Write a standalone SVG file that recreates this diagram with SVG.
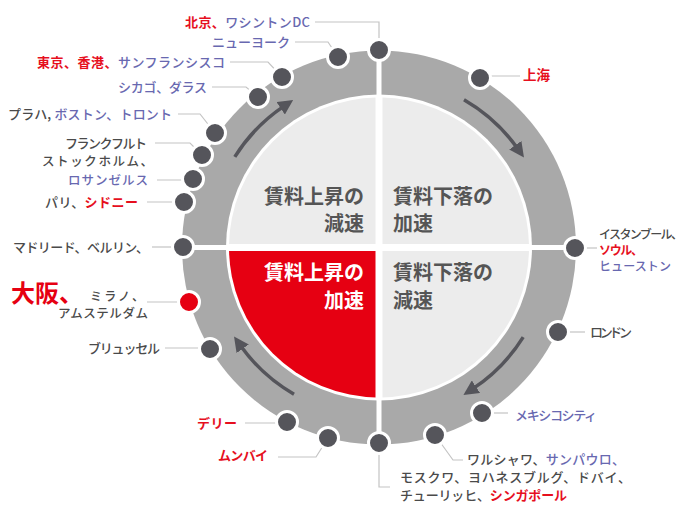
<svg xmlns="http://www.w3.org/2000/svg" width="685" height="505" viewBox="0 0 685 505">
<style>
text{font-family:"Noto Sans CJK JP","Liberation Sans",sans-serif;font-size:13px;font-weight:500;fill:#4a4a4a}
.b{fill:#6868b0}
.r{fill:#e60f1e;font-weight:bold}
.e{text-anchor:end}
.q{font-size:20px;font-weight:bold;fill:#555}
.dot{fill:#55555b;stroke:#fff;stroke-width:3}
.lead{fill:none;stroke:#c4c4c4;stroke-width:1.2}
.arr{fill:none;stroke:#55555b;stroke-width:3.5;marker-end:url(#ah)}
</style>
<defs>
<marker id="ah" markerUnits="userSpaceOnUse" viewBox="0 0 15 15" refX="4" refY="7.5" markerWidth="15" markerHeight="15" orient="auto">
<path d="M0,0 L15,7.5 L0,15 z" fill="#55555b"/>
</marker>
<clipPath id="tl"><rect x="0" y="0" width="375.5" height="244"/></clipPath>
<clipPath id="tr"><rect x="382.5" y="0" width="310" height="244"/></clipPath>
<clipPath id="bl"><rect x="0" y="251" width="375.5" height="260"/></clipPath>
<clipPath id="br"><rect x="382.5" y="251" width="310" height="260"/></clipPath>
</defs>
<rect width="685" height="505" fill="#fff"/>
<g id="wheel">
<circle cx="379" cy="247.5" r="197" fill="#a9a9a9"/>
<circle cx="379" cy="247.5" r="153" fill="#fff"/>
<circle cx="379" cy="247.5" r="150" fill="#ececec" clip-path="url(#tl)"/>
<circle cx="379" cy="247.5" r="150" fill="#ececec" clip-path="url(#tr)"/>
<circle cx="379" cy="247.5" r="150" fill="#e60012" clip-path="url(#bl)"/>
<circle cx="379" cy="247.5" r="150" fill="#ececec" clip-path="url(#br)"/>
<path d="M379,48 V447 M180,247.5 H578" stroke="#fff" stroke-width="5"/>
</g>
<g id="quadrants">
<text class="q e" x="364" y="204">賃料上昇の</text>
<text class="q e" x="364" y="231">減速</text>
<text class="q" x="393" y="204">賃料下落の</text>
<text class="q" x="393" y="231">加速</text>
<text class="q e" x="364" y="280" style="fill:#fff">賃料上昇の</text>
<text class="q e" x="364" y="308" style="fill:#fff">加速</text>
<text class="q" x="393" y="280">賃料下落の</text>
<text class="q" x="393" y="308">減速</text>
</g>
<g id="cycle-arrows">
<path class="arr" d="M234.8,156.9 A170,170 0 0 1 284,106.1"/>
<path class="arr" d="M464,99.8 A170,170 0 0 1 517.6,148.5"/>
<path class="arr" d="M523.2,337.1 A170,170 0 0 1 472.6,388.9"/>
<path class="arr" d="M294,394.2 A170,170 0 0 1 240.4,345.5"/>
</g>
<g id="connectors">
<path class="lead" d="M315,22 H379 V40"/>
<path class="lead" d="M295,42 H328 L338,57"/>
<path class="lead" d="M230,62 H268 L282,77"/>
<path class="lead" d="M212,87 H246 L258,97"/>
<path class="lead" d="M178,114 H200 L215,133"/>
<path class="lead" d="M155,143 H190 L202,155"/>
<path class="lead" d="M157,180 H193"/>
<path class="lead" d="M147,202 H184"/>
<path class="lead" d="M152,247 H183"/>
<path class="lead" d="M147,302 H189"/>
<path class="lead" d="M165,348 H210"/>
<path class="lead" d="M245,423 H287"/>
<path class="lead" d="M278,457 H316 L328,438"/>
<path class="lead" d="M379,443 V487 H390"/>
<path class="lead" d="M435,435 L453,460 H463"/>
<path class="lead" d="M482,413 H508"/>
<path class="lead" d="M558,332 H585"/>
<path class="lead" d="M575,248 H597"/>
<path class="lead" d="M480,76 H520"/>
</g>
<g id="n-beijing"><circle class="dot" cx="379" cy="50" r="10.5"/><text class="e" x="310" y="27" textLength="125"><tspan class="r">北京、</tspan><tspan class="b">ワシントンDC</tspan></text></g>
<g id="n-newyork"><circle class="dot" cx="338" cy="57" r="10.5"/><text class="e b" x="290" y="47" textLength="78">ニューヨーク</text></g>
<g id="n-tokyo"><circle class="dot" cx="282" cy="77" r="10.5"/><text class="e" x="225" y="67" textLength="188"><tspan class="r">東京、香港、</tspan><tspan class="b">サンフランシスコ</tspan></text></g>
<g id="n-chicago"><circle class="dot" cx="258" cy="97" r="10.5"/><text class="e b" x="207" y="92" textLength="89">シカゴ、ダラス</text></g>
<g id="n-prague"><circle class="dot" cx="215" cy="133" r="10.5"/><text class="e" x="172" y="119" textLength="164">プラハ, <tspan class="b">ボストン、トロント</tspan></text></g>
<g id="n-frankfurt"><circle class="dot" cx="202" cy="155" r="10.5"/><text class="e" x="147" y="148" textLength="82">フランクフルト</text></g>
<g id="n-stockholm"><circle class="dot" cx="193" cy="179" r="10.5"/><text class="e" x="153" y="166" textLength="111" style="font-size:12.5px">ストックホルム、</text><text class="e b" x="148" y="185" textLength="80" style="font-size:12.5px">ロサンゼルス</text></g>
<g id="n-paris"><circle class="dot" cx="184" cy="202" r="10.5"/><text class="e" x="138" y="207" textLength="93">パリ、<tspan class="r">シドニー</tspan></text></g>
<g id="n-madrid"><circle class="dot" cx="183" cy="247" r="10.5"/><text class="e" x="149" y="252" textLength="136">マドリード、ベルリン、</text></g>
<g id="n-osaka"><circle class="dot" cx="189" cy="302" r="10.5" style="fill:#e60012"/><text x="11" y="302" style="font-size:24px;font-weight:bold;fill:#e60012">大阪、</text><text class="e" x="144" y="301" textLength="54" style="font-size:12px">ミラノ、</text><text class="e" x="148" y="318" textLength="90" style="font-size:12.5px">アムステルダム</text></g>
<g id="n-brussels"><circle class="dot" cx="210" cy="349" r="10.5"/><text class="e" x="160" y="353" textLength="72">ブリュッセル</text></g>
<g id="n-delhi"><circle class="dot" cx="287" cy="422" r="10.5"/><text class="e r" x="237" y="428" textLength="40">デリー</text></g>
<g id="n-mumbai"><circle class="dot" cx="328" cy="438" r="10.5"/><text class="e r" x="268" y="460" textLength="50">ムンバイ</text></g>
<g id="n-moscow"><circle class="dot" cx="379" cy="443" r="10.5"/><text x="400" y="482" textLength="231">モスクワ、ヨハネスブルグ、ドバイ、</text><text x="400" y="500" textLength="167">チューリッヒ、<tspan class="r">シンガポール</tspan></text></g>
<g id="n-warsaw"><circle class="dot" cx="435" cy="435" r="10.5"/><text x="467" y="464" textLength="158">ワルシャワ、<tspan class="b">サンパウロ、</tspan></text></g>
<g id="n-mexico"><circle class="dot" cx="482" cy="413" r="10.5"/><text class="b" x="515" y="420" textLength="82">メキシコシティ</text></g>
<g id="n-london"><circle class="dot" cx="558" cy="332" r="10.5"/><text x="590" y="337" textLength="42">ロンドン</text></g>
<g id="n-istanbul"><circle class="dot" cx="575" cy="248" r="10.5"/><text x="599" y="239" textLength="84" style="font-size:12px">イスタンブール、</text><text class="r" x="599" y="255" textLength="44" style="font-size:12px">ソウル、</text><text class="b" x="599" y="271" textLength="72" style="font-size:12px">ヒューストン</text></g>
<g id="n-shanghai"><circle class="dot" cx="480" cy="78" r="10.5"/><text class="r" x="523" y="80" style="font-size:13.5px">上海</text></g>
</svg>
